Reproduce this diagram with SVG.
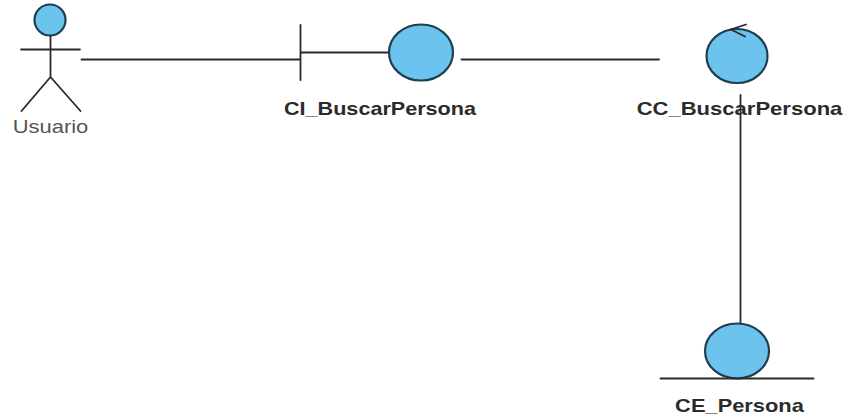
<svg xmlns="http://www.w3.org/2000/svg" width="846" height="419" viewBox="0 0 846 419">
<style>
.l{stroke:#2a2a2a;stroke-width:1.8;fill:none;stroke-linecap:round}
.c{fill:#6cc3ee;stroke:#1d3f50;stroke-width:2.2}
text{font-family:"Liberation Sans",Arial,sans-serif;fill:#2b2b2b;text-anchor:middle;font-size:18px}
.b{font-weight:bold}
</style>
<rect width="846" height="419" fill="#fff"/>
<g id="connectors">
<line class="l" x1="81.500" y1="59.500" x2="300" y2="59.500"/>
<line class="l" x1="461.500" y1="59.500" x2="659" y2="59.500"/>
<line class="l" x1="740.500" y1="95" x2="740.500" y2="323"/>
</g>
<g id="usuario">
<circle class="c" cx="50" cy="20" r="15.500"/>
<path class="l" d="M50.500 36V77M21 49.500H80M50.500 77L21.500 111M50.500 77L80.500 111"/>
<text transform="translate(50.500 133) scale(1.220 1)" style="fill:#555">Usuario</text>
</g>
<g id="ci_buscarpersona">
<path class="l" d="M300.500 25V80M301 52.500H389"/>
<ellipse class="c" cx="421" cy="52.500" rx="32" ry="28"/>
<text class="b" transform="translate(380 115) scale(1.200 1)">CI_BuscarPersona</text>
</g>
<g id="cc_buscarpersona">
<ellipse class="c" cx="737" cy="56" rx="30.500" ry="27"/>
<path class="l" d="M746 24.500L731 29.500L745 36.500"/>
<text class="b" transform="translate(739.500 115) scale(1.225 1)">CC_BuscarPersona</text>
</g>
<g id="ce_persona">
<ellipse class="c" cx="737" cy="351" rx="32" ry="27.500"/>
<line class="l" x1="660.500" y1="378.500" x2="813.500" y2="378.500"/>
<text class="b" transform="translate(739.500 412) scale(1.215 1)">CE_Persona</text>
</g>
</svg>
